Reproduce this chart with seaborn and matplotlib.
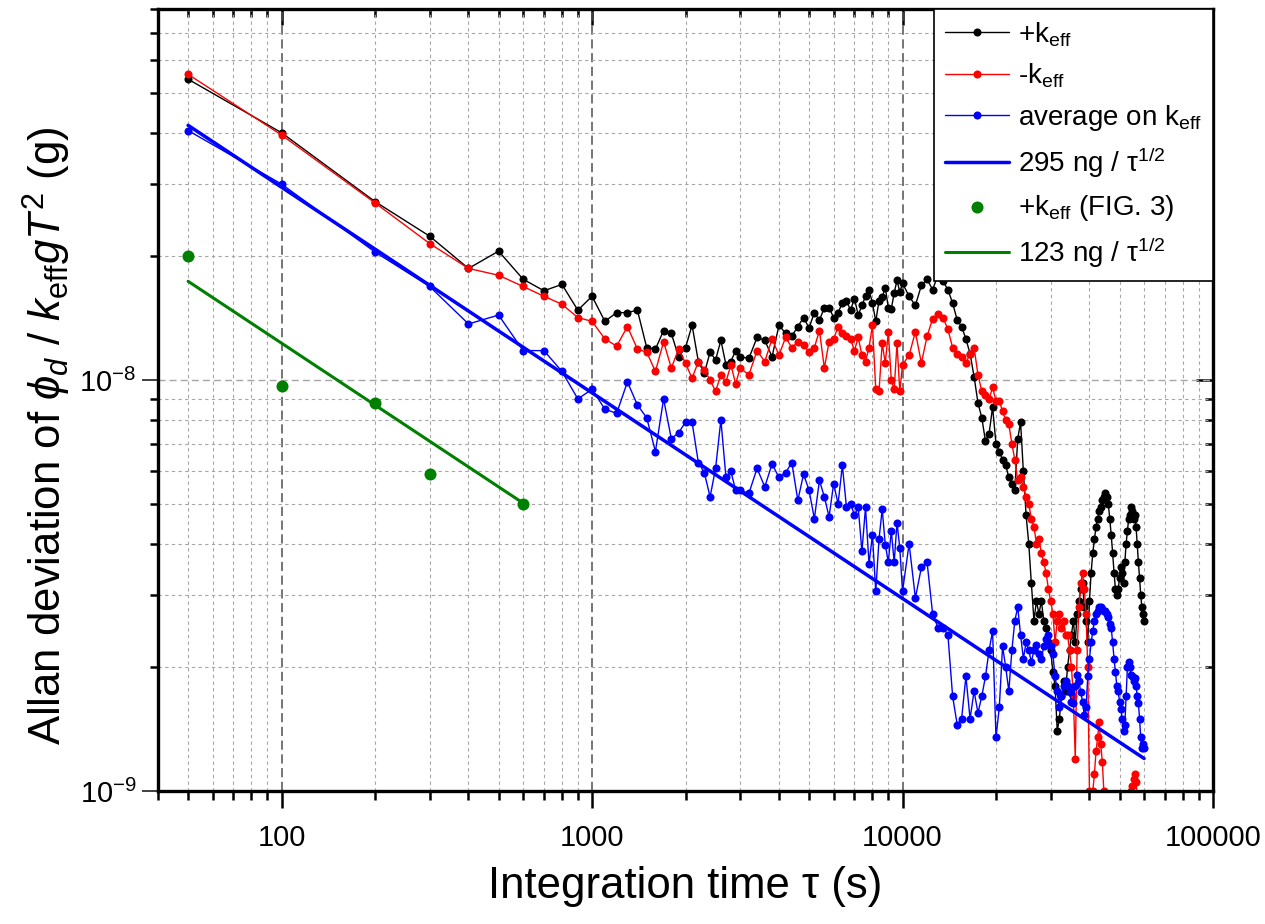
import numpy as np
import pandas as pd
import matplotlib
matplotlib.use("Agg")
import matplotlib.pyplot as plt
import matplotlib.ticker as mticker
import seaborn as sns

# integration times (s), shared by the three measured series
tau = [50, 100, 200, 300, 400, 500, 600, 700, 800, 900,
       1000, 1100, 1200, 1300, 1400, 1500, 1600, 1700, 1800, 1900,
       2000, 2100, 2200, 2300, 2400, 2500, 2600, 2700, 2800, 2900,
       3000, 3200, 3400, 3600, 3800, 4000, 4200, 4400, 4600, 4800,
       5000, 5200, 5400, 5600, 5800, 6000, 6200, 6400, 6600, 6800,
       7000, 7200, 7400, 7600, 7800, 8000, 8200, 8400, 8600, 8800,
       9000, 9200, 9400, 9600, 9800, 10000, 10500, 11000, 11500, 12000,
       12500, 13000, 13500, 14000, 14500, 15000, 15500, 16000, 16500, 17000,
       17500, 18000, 18500, 19000, 19500, 20000, 20500, 21000, 21500, 22000,
       22500, 23000, 23500, 24000, 24500, 25000, 25500, 26000, 26500, 27000,
       27500, 28000, 28500, 29000, 29500, 30000, 30500, 31000, 31500, 32000,
       32500, 33000, 33500, 34000, 34500, 35000, 35500, 36000, 36500, 37000,
       37500, 38000, 38500, 39000, 39500, 40000, 40500, 41000, 41500, 42000,
       42500, 43000, 43500, 44000, 44500, 45000, 45500, 46000, 46500, 47000,
       47500, 48000, 48500, 49000, 49500, 50000, 50500, 51000, 51500, 52000,
       52500, 53000, 53500, 54000, 54500, 55000, 55500, 56000, 56500, 57000,
       57500, 58000, 58500, 59000, 59500, 60000]

# Allan deviation, in units of 1e-9 g
plus_keff = [54.0, 40.0, 27.2, 22.4, 18.7, 20.6, 17.6, 16.5, 17.1, 14.8,
             16.0, 13.9, 14.6, 14.6, 14.8, 12.0, 11.9, 13.2, 13.0, 11.4,
             12.0, 13.6, 11.1, 10.4, 11.7, 11.2, 12.5, 10.9, 11.1, 11.8,
             11.4, 11.3, 12.7, 12.5, 11.4, 13.6, 13.0, 12.8, 13.5, 14.2,
             13.4, 14.6, 14.0, 15.0, 15.0, 14.2, 14.6, 15.4, 15.6, 14.8,
             15.8, 14.4, 15.2, 16.0, 16.6, 15.4, 13.9, 15.6, 15.9, 16.8,
             15.0, 14.9, 16.3, 17.5, 16.4, 17.2, 16.0, 15.2, 17.0, 17.6,
             16.6, 18.0, 17.4, 16.6, 15.4, 14.0, 13.5, 12.6, 11.6, 10.2,
             8.8, 8.1, 7.1, 7.4, 8.6, 7.0, 6.7, 6.4, 6.2, 5.8,
             5.6, 5.4, 7.2, 7.9, 6.0, 4.7, 4.0, 3.2, 2.6, 2.9,
             2.7, 2.9, 2.6, 2.5, 2.3, 2.2, 1.95, 1.8, 1.4, 1.5,
             1.7, 1.85, 1.75, 2.0, 2.2, 2.4, 2.6, 2.3, 2.7, 2.9,
             3.1, 3.2, 2.8, 2.6, 2.3, 2.9, 3.4, 3.8, 4.1, 4.4,
             4.6, 4.8, 4.9, 5.1, 5.2, 5.3, 5.2, 5.0, 4.6, 4.2,
             3.8, 3.4, 3.1, 3.0, 3.1, 3.3, 3.5, 3.4, 3.2, 3.6,
             4.0, 4.3, 4.6, 4.7, 4.9, 4.8, 4.6, 4.7, 4.4, 4.0,
             3.6, 3.3, 3.0, 2.8, 2.7, 2.6]

minus_keff = [55.5, 39.5, 27.0, 21.5, 18.7, 18.0, 16.9, 16.0, 15.3, 14.2,
              13.9, 12.6, 12.1, 13.5, 11.9, 11.7, 10.5, 12.4, 10.7, 11.9,
              11.0, 10.1, 11.1, 10.6, 10.0, 9.4, 10.3, 9.9, 10.9, 9.8,
              10.7, 10.3, 11.8, 11.1, 12.6, 11.5, 12.7, 12.0, 12.4, 12.2,
              11.7, 12.0, 13.2, 10.7, 12.4, 12.6, 13.5, 13.0, 12.8, 12.6,
              11.8, 12.7, 11.5, 11.1, 12.0, 13.6, 9.5, 9.4, 12.3, 11.0,
              13.1, 10.0, 9.5, 12.3, 9.4, 10.9, 11.5, 13.1, 11.0, 12.8,
              14.1, 14.5, 14.2, 13.3, 12.0, 11.6, 11.4, 11.0, 11.6, 12.0,
              10.3, 9.4, 9.2, 9.0, 9.6, 8.9, 8.9, 8.4, 8.0, 7.8,
              7.0, 6.4, 5.7, 5.8, 5.5, 5.2, 5.0, 4.6, 4.4, 4.0,
              4.1, 3.8, 3.6, 3.4, 3.1, 2.9, 2.7, 2.3, 2.6, 2.7,
              2.5, 2.6, 2.4, 2.4, 2.2, 2.0, 1.7, 1.2, 2.2, 2.8,
              3.2, 3.4, 3.1, 2.7, 2.0, 1.0, 0.98, 1.0, 1.1, 1.25,
              1.35, 1.47, 1.3, 1.18, 1.0, 0.9, 0.8, 0.8, 0.8, 0.8,
              0.8, 0.8, 0.8, 0.8, 0.8, 0.8, 0.8, 0.8, 0.8, 0.8,
              0.8, 0.85, 0.9, 0.95, 1.0, 1.03, 1.07, 1.1, 1.05, 0.98,
              0.92, 0.88, 0.85, 0.8, 0.8, 0.8]

average_keff = [40.5, 30.0, 20.5, 16.9, 13.7, 14.4, 11.8, 11.8, 10.5, 9.0,
                9.5, 8.5, 8.3, 9.9, 8.7, 8.1, 6.7, 9.0, 7.2, 7.45,
                7.9, 7.9, 6.3, 5.95, 5.2, 6.1, 8.0, 5.8, 6.0, 5.4,
                5.4, 5.3, 6.1, 5.5, 6.25, 5.8, 5.95, 6.3, 5.1, 5.9,
                5.4, 4.6, 5.7, 5.2, 4.65, 5.6, 5.0, 6.2, 4.9, 5.0,
                4.7, 4.9, 3.83, 4.9, 3.57, 4.2, 3.06, 4.1, 4.85, 3.98,
                3.6, 4.3, 3.6, 4.5, 3.9, 3.06, 4.0, 2.95, 3.5, 3.6,
                2.7, 2.5, 2.5, 2.4, 1.7, 1.45, 1.5, 1.9, 1.5, 1.75,
                1.55, 1.7, 1.9, 2.2, 2.45, 1.35, 1.6, 2.25, 2.0, 1.75,
                2.2, 2.6, 2.8, 2.4, 2.1, 2.3, 2.2, 2.06, 2.2, 2.27,
                2.15, 2.1, 2.25, 2.35, 2.4, 2.25, 2.15, 1.9, 1.75, 1.6,
                1.7, 1.8, 1.85, 1.8, 1.74, 1.65, 1.64, 1.8, 1.92, 1.85,
                1.74, 1.65, 1.53, 1.6, 1.9, 2.1, 2.3, 2.45, 2.6, 2.7,
                2.75, 2.8, 2.8, 2.78, 2.75, 2.75, 2.7, 2.65, 2.55, 2.5,
                2.3, 2.1, 1.95, 1.8, 1.75, 1.65, 1.58, 1.5, 1.4, 1.45,
                1.7, 2.0, 2.06, 2.0, 1.92, 1.9, 1.85, 1.88, 1.8, 1.7,
                1.64, 1.5, 1.35, 1.27, 1.3, 1.27]

# 295 ng / sqrt(tau) fit, end points
fit295_tau = [50, 60000]
fit295_val = [41.7, 1.2]

# FIG. 3 points and 123 ng / sqrt(tau) fit
fig3_tau = [50, 100, 200, 300, 600]
fig3_val = [20.0, 9.7, 8.8, 5.9, 5.0]
fit123_tau = [50, 600]
fit123_val = [17.4, 5.02]

scale = 1e-9

df = pd.DataFrame({"tau": tau,
                   "plus": np.array(plus_keff) * scale,
                   "minus": np.array(minus_keff) * scale,
                   "avg": np.array(average_keff) * scale})

sns.set_theme(style="white")
plt.rcParams["font.family"] = ["Liberation Sans", "DejaVu Sans"]
plt.rcParams["mathtext.fontset"] = "custom"
plt.rcParams["mathtext.rm"] = "Liberation Sans"
plt.rcParams["mathtext.it"] = "Liberation Sans:italic"
plt.rcParams["mathtext.bf"] = "Liberation Sans:bold"
plt.rcParams["text.color"] = "black"
plt.rcParams["axes.labelcolor"] = "black"
plt.rcParams["xtick.color"] = "black"
plt.rcParams["ytick.color"] = "black"

fig = plt.figure(figsize=(12.65, 9.24), dpi=100)
ax = fig.add_axes([0.1249, 0.1439, 0.8340, 0.8463])
ax.set_xscale("log")
ax.set_yscale("log")

dot = dict(marker="o", markersize=5.8, markeredgewidth=0, linewidth=1.0,
           sort=False, estimator=None)
sns.lineplot(data=df, x="tau", y="plus", color="black", ax=ax, label="+k$_{\\rm eff}$", **dot)
sns.lineplot(data=df, x="tau", y="minus", color="#ff0000", ax=ax, label="-k$_{\\rm eff}$", **dot)
sns.lineplot(data=df, x="tau", y="avg", color="#0000ff", ax=ax, label="average on k$_{\\rm eff}$", **dot)

sns.lineplot(x=fit295_tau, y=np.array(fit295_val) * scale, color="#0000ff", linewidth=2.5,
             ax=ax, label="295 ng / τ$^{1/2}$")
sns.scatterplot(x=fig3_tau, y=np.array(fig3_val) * scale, color="#008000", s=75, linewidth=0,
                ax=ax, label="+k$_{\\rm eff}$ (FIG. 3)", zorder=4)
sns.lineplot(x=fit123_tau, y=np.array(fit123_val) * scale, color="#008000", linewidth=2.2,
             ax=ax, label="123 ng / τ$^{1/2}$")

ax.set_xlim(40, 1e5)
ax.set_ylim(1e-9, 8e-8)

ax.xaxis.set_minor_locator(mticker.LogLocator(base=10, subs=np.arange(2, 10), numticks=20))
ax.yaxis.set_minor_locator(mticker.LogLocator(base=10, subs=np.arange(2, 10), numticks=20))
ax.xaxis.set_major_formatter(mticker.FuncFormatter(lambda v, p: f"{v:.0f}"))
ax.xaxis.set_minor_formatter(mticker.NullFormatter())
ax.yaxis.set_minor_formatter(mticker.NullFormatter())

ax.set_axisbelow(True)
ax.grid(which="minor", color="#a6a6a6", linestyle=(0, (3, 3)), linewidth=0.8)
ax.grid(which="major", axis="y", color="#a6a6a6", linestyle=(0, (5, 3)), linewidth=1.0)
ax.grid(which="major", axis="x", color="#505050", linestyle=(0, (6, 3)), linewidth=1.1)

for s in ax.spines.values():
    s.set_color("black")
    s.set_linewidth(2.4)

ax.tick_params(bottom=True, left=True, top=False, right=False, which="both")
ax.tick_params(axis="x", which="major", direction="out", length=12, width=1.8,
               labelsize=21, pad=12)
ax.tick_params(axis="x", which="minor", direction="out", length=6.5, width=1.8)
ax.tick_params(axis="y", which="major", direction="out", length=11.5, width=1.4,
               color="#404040", labelsize=21, pad=4)
ax.tick_params(axis="y", which="minor", direction="out", length=5.5, width=1.8)

# inward ticks on the top and right sides
top = ax.secondary_xaxis("top")
top.xaxis.set_minor_locator(mticker.LogLocator(base=10, subs=np.arange(2, 10), numticks=20))
top.tick_params(which="both", top=True, labeltop=False, direction="in", width=1.8)
top.tick_params(which="major", length=11.5)
top.tick_params(which="minor", length=6)
top.xaxis.set_minor_formatter(mticker.NullFormatter())
right = ax.secondary_yaxis("right")
right.yaxis.set_minor_locator(mticker.LogLocator(base=10, subs=np.arange(2, 10), numticks=20))
right.tick_params(which="both", right=True, labelright=False, direction="in", width=1.8)
right.tick_params(which="major", length=12)
right.tick_params(which="minor", length=6)
right.yaxis.set_minor_formatter(mticker.NullFormatter())

# the helper axes carry no text of their own
for sec in (top, right):
    sec.xaxis.label.set_visible(False)
    sec.yaxis.label.set_visible(False)
    sec.xaxis.offsetText.set_visible(False)
    sec.yaxis.offsetText.set_visible(False)
ax.xaxis.offsetText.set_visible(False)
ax.yaxis.offsetText.set_visible(False)

ax.set_xlabel("Integration time τ (s)", fontsize=31.5, labelpad=10)
ax.set_ylabel("Allan deviation of $\\phi_d$ / $k_{\\rm eff}gT^2$ (g)", fontsize=31.5)
ax.yaxis.set_label_coords(-0.081, 0.454)

leg = ax.legend(loc="upper right", fontsize=20, frameon=True, fancybox=False,
                edgecolor="black", framealpha=1, borderaxespad=0, borderpad=0.4,
                handlelength=2.3, handletextpad=0.3, labelspacing=0.46,
                numpoints=1, scatterpoints=1)
leg.get_frame().set_linewidth(1.2)

fig.savefig("out.png", dpi=100)
